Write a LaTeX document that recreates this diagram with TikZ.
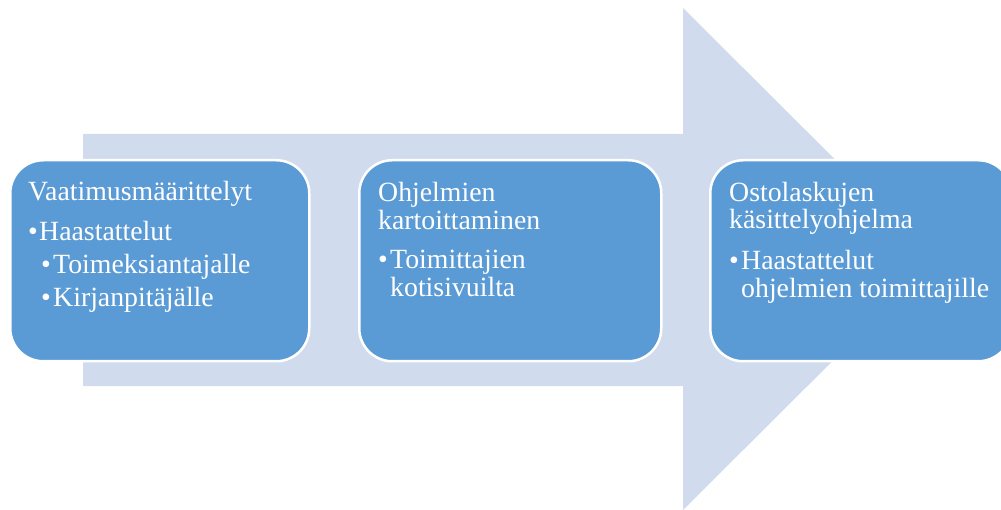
\documentclass[tikz,border=0pt]{standalone}
\usepackage{fontspec}
\setmainfont{Liberation Serif}
\newfontfamily\boxfont{Liberation Serif}
\definecolor{arrowfill}{RGB}{208,220,238}
\definecolor{boxfill}{RGB}{91,155,213}
\tikzset{
  stagebox/.style={draw=white, line width=2.5pt, fill=boxfill, rounded corners=33pt, anchor=north west, inner sep=0pt, minimum height=201pt},
  boxtext/.style={anchor=base west, inner sep=0pt, text=white, font=\boxfont\fontsize{27.8}{28}\selectfont},
}
\begin{document}
\begin{tikzpicture}[x=1pt,y=-1pt]
\useasboundingbox (0,0) rectangle (1001,510);
\clip (0,0) rectangle (1001,510);
% big arrow
\fill[arrowfill] (83,134) -- (683,134) -- (683,8) -- (935,259) -- (683,510) -- (683,386) -- (83,386) -- cycle;
% boxes
\node[stagebox, minimum width=299pt] (b1) at (9,159) {};
\node[stagebox, minimum width=302pt] (b2) at (358,159) {};
\node[stagebox, minimum width=301pt] (b3) at (709,159) {};
% box 1 text
\node[boxtext] (t1a) at (28,201) {Vaatimusmäärittelyt};
\node[boxtext] (t1b) at (28,241) {•};
\node[boxtext] (t1c) at (39,241) {Haastattelut};
\node[boxtext] (t1d) at (41,274) {•};
\node[boxtext] (t1e) at (53,274) {Toimeksiantajalle};
\node[boxtext] (t1f) at (41,307) {•};
\node[boxtext] (t1g) at (53,307) {Kirjanpitäjälle};
% box 2 text
\node[boxtext] (t2a) at (378,202) {Ohjelmien};
\node[boxtext] (t2b) at (378,230) {kartoittaminen};
\node[boxtext] (t2c) at (378,269) {•};
\node[boxtext] (t2d) at (390,269) {Toimittajien};
\node[boxtext] (t2e) at (390,297) {kotisivuilta};
% box 3 text
\node[boxtext] (t3a) at (729,202) {Ostolaskujen};
\node[boxtext] (t3b) at (729,229) {käsittelyohjelma};
\node[boxtext] (t3c) at (729,270) {•};
\node[boxtext] (t3d) at (741,270) {Haastattelut};
\node[boxtext] (t3e) at (741,298) {ohjelmien toimittajille};
\end{tikzpicture}
\end{document}
